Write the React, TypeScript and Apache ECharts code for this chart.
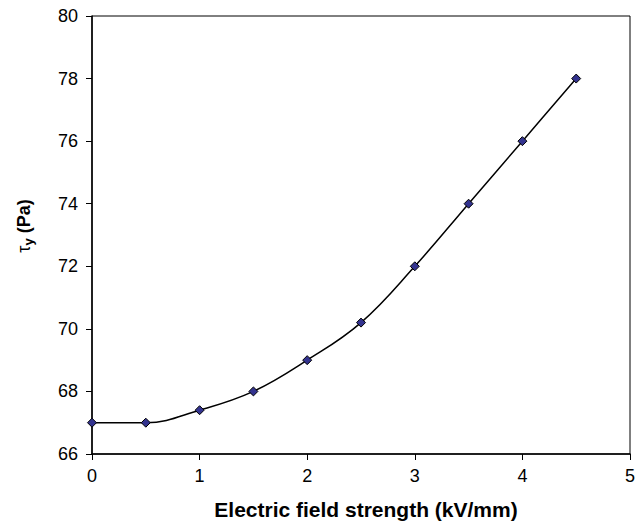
import React, { useEffect, useRef } from "react";
import * as echarts from "echarts";

const xValues = [0, 0.5, 1, 1.5, 2, 2.5, 3, 3.5, 4, 4.5];
const yieldStress = [67, 67, 67.4, 68, 69, 70.2, 72, 74, 76, 78];
const xTitle = "Electric field strength (kV/mm)";

export default function App() {
  const ref = useRef<HTMLDivElement>(null);
  useEffect(() => {
    if (!ref.current) return;
    const chart = echarts.init(ref.current, undefined, { renderer: "svg" });
    const font = "'Liberation Sans', Arial, sans-serif";
    chart.setOption({
      animation: false,
      backgroundColor: "#ffffff",
      grid: {
        left: 92,
        right: 14,
        top: 16,
        bottom: 68,
        show: true,
        borderColor: "#000",
        borderWidth: 1,
      },
      graphic: [
        {
          type: "text",
          x: 24,
          y: 226,
          rotation: Math.PI / 2,
          style: {
            text: "{t|τ}{s|y}{p| (Pa)}",
            align: "center",
            verticalAlign: "middle",
            fill: "#000",
            rich: {
              t: { fontFamily: font, fontSize: 18, fontWeight: "normal", fill: "#000", color: "#000" },
              s: { fontFamily: font, fontSize: 13, fontWeight: "bold", fill: "#000", color: "#000", verticalAlign: "bottom", padding: [9, 0, 0, 0] },
              p: { fontFamily: font, fontSize: 18, fontWeight: "bold", fill: "#000", color: "#000" },
            },
          },
        },
      ],
      xAxis: {
        type: "value",
        min: 0,
        max: 5,
        interval: 1,
        name: xTitle,
        nameLocation: "middle",
        nameGap: 45,
        nameTextStyle: { fontFamily: font, fontSize: 21, fontWeight: "bold", color: "#000", padding: [0, 0, 0, 10] },
        axisLine: { show: true, onZero: false, lineStyle: { color: "#000", width: 1.5 } },
        axisTick: { show: true, inside: false, length: 6, lineStyle: { color: "#000", width: 1 } },
        axisLabel: { fontFamily: font, fontSize: 18, color: "#000", margin: 13 },
        splitLine: { show: false },
      },
      yAxis: {
        type: "value",
        min: 66,
        max: 80,
        interval: 2,
        axisLine: { show: true, lineStyle: { color: "#000", width: 1.5 } },
        axisTick: { show: true, inside: false, length: 6, lineStyle: { color: "#000", width: 1 } },
        axisLabel: { fontFamily: font, fontSize: 18, color: "#000", margin: 14 },
        splitLine: { show: false },
      },
      series: [
        {
          type: "line",
          data: xValues.map((x, i) => [x, yieldStress[i]]),
          smooth: 0.4,
          symbol: "diamond",
          symbolSize: 9,
          lineStyle: { color: "#000", width: 1.5 },
          itemStyle: { color: "#33338f", borderColor: "#000", borderWidth: 1 },
        },
      ],
    });
    return () => chart.dispose();
  }, []);
  return (
    <div
      ref={ref}
      style={{ position: "fixed", left: 0, top: 0, width: 644, height: 525, background: "#fff" }}
    />
  );
}
